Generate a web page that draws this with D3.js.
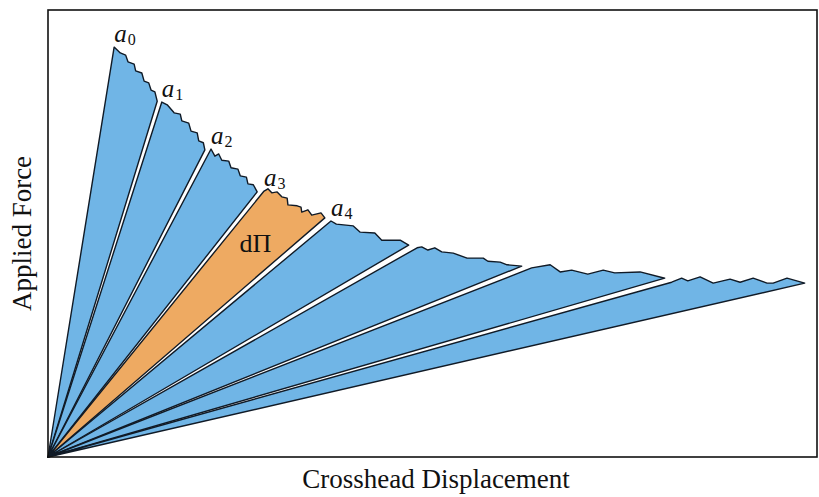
<!DOCTYPE html>
<html>
<head>
<meta charset="utf-8">
<script src="https://cdn.jsdelivr.net/npm/d3@7"></script>
<style>
html,body{margin:0;padding:0;background:#fff;}
svg{display:block;}
</style>
</head>
<body>
<svg id="chart" width="819" height="497"></svg>
<script>
// Top (sawtooth) edges of each unloading wedge, in displacement / force units
const wedge0 = [[8.6,91.7],[9.4,90.4],[10.1,89.9],[10.4,88.4],[11.2,87.9],[11.4,86.4],[12.2,85.9],[12.5,84.1],[13.1,83.7],[13.4,82.1],[13.9,81.7],[14.2,79.6]];
const wedge1 = [[14.8,79.4],[15.5,78.8],[16.4,77.0],[17.2,76.7],[17.4,75.2],[18.3,74.7],[18.6,72.9],[19.4,72.5],[19.6,70.7],[20.2,70.3],[20.4,68.7]];
const wedge2 = [[21.2,68.9],[21.7,67.3],[22.2,67.8],[22.6,66.4],[23.5,66.2],[23.8,64.7],[24.7,64.4],[25.0,62.9],[25.8,62.6],[26.0,61.1],[26.7,60.9],[27.2,59.3]];
const wedge3 = [[28.1,59.5],[28.6,60.0],[29.1,59.1],[29.8,59.3],[30.4,58.2],[31.1,57.9],[31.2,56.4],[32.4,56.2],[32.9,55.9],[33.0,54.8],[33.8,55.3],[34.3,54.1],[35.5,54.6],[36.0,53.5]];
const wedge4 = [[36.8,52.8],[37.5,52.1],[39.7,51.7],[40.6,50.3],[42.5,50.1],[43.4,48.5],[45.8,48.5],[46.9,47.4]];
const wedge5 = [[48.0,46.8],[48.6,47.0],[49.4,46.3],[50.3,46.8],[51.2,45.9],[52.7,45.6],[54.5,44.5],[56.6,44.5],[57.2,43.8],[58.8,43.6],[59.7,43.0],[61.6,42.7]];
const wedge6 = [[62.9,42.3],[65.3,43.0],[66.6,41.4],[68.1,41.8],[70.2,40.9],[72.2,41.8],[73.7,41.2],[77.0,41.4],[80.2,40.0]];
const wedge7 = [[81.1,39.1],[82.4,40.0],[83.2,39.4],[84.8,40.3],[86.5,38.9],[88.7,39.8],[90.0,39.1],[91.7,40.0],[93.5,38.9],[94.3,38.9],[96.1,40.0],[98.4,38.9]];
const wedges = [wedge0, wedge1, wedge2, wedge3, wedge4, wedge5, wedge6, wedge7];
const highlighted = 3;           // the dΠ wedge
const crackLabels = ["0","1","2","3","4"]; // a_i labels on first wedges
const areaLabel = {text: "dΠ", pos: [24.9, 45.9]};
const xTitle = "Crosshead Displacement";
const yTitle = "Applied Force";

const W = 819, H = 497;
const plot = {left: 48, right: 817, top: 10, bottom: 457};
const x = d3.scaleLinear().domain([0, 100]).range([plot.left, plot.right]);
const y = d3.scaleLinear().domain([0, 100]).range([plot.bottom, plot.top]);

const svg = d3.select("#chart");
const FONT = "'Liberation Serif','Times New Roman',serif";

const line = d3.line().x(d => x(d[0])).y(d => y(d[1])).curve(d3.curveLinearClosed);

svg.append("g").selectAll("path")
  .data(wedges)
  .join("path")
  .attr("d", d => line([[0,0], ...d]))
  .attr("fill", (d,i) => i === highlighted ? "#eeaa62" : "#70b5e6")
  .attr("stroke", "#101a26")
  .attr("stroke-width", 1.4)
  .attr("stroke-linejoin", "round");

// frame
svg.append("rect")
  .attr("x", plot.left).attr("y", plot.top)
  .attr("width", plot.right - plot.left).attr("height", plot.bottom - plot.top)
  .attr("fill", "none").attr("stroke", "#111").attr("stroke-width", 1.6);

// a_i labels
const lab = svg.append("g").selectAll("text")
  .data(crackLabels)
  .join("text")
  .attr("x", (d,i) => x(wedges[i][0][0]))
  .attr("y", (d,i) => y(wedges[i][0][1]) - 5)
  .attr("font-family", FONT)
  .attr("fill", "#111");
lab.append("tspan").attr("font-style", "italic").attr("font-size", 25).text("a");
lab.append("tspan").attr("font-size", 16).attr("dy", 3).attr("dx", 1).text(d => d);

svg.append("text")
  .attr("x", x(areaLabel.pos[0])).attr("y", y(areaLabel.pos[1]))
  .attr("font-family", FONT).attr("font-size", 26).attr("fill", "#111")
  .text(areaLabel.text);

svg.append("text")
  .attr("x", 436).attr("y", 488)
  .attr("text-anchor", "middle")
  .attr("font-family", FONT).attr("font-size", 27).attr("fill", "#111")
  .text(xTitle);

svg.append("text")
  .attr("transform", `translate(31,${(plot.top + plot.bottom)/2}) rotate(-90)`)
  .attr("text-anchor", "middle")
  .attr("font-family", FONT).attr("font-size", 27).attr("fill", "#111")
  .text(yTitle);
</script>
</body>
</html>
